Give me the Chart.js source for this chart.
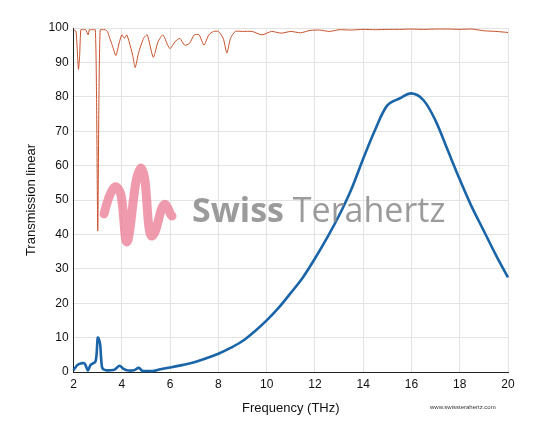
<!DOCTYPE html>
<html><head><meta charset="utf-8">
<script src="https://cdn.jsdelivr.net/npm/chart.js@4"></script>
<style>body{margin:0;background:#fff;font-family:Arial,"Liberation Sans",sans-serif}
#w{position:relative;width:540px;height:439px}
.wm{position:absolute;left:192px;top:186px;font:bold 34px "Open Sans",sans-serif;color:#8a8a8a;opacity:.85}
.wm span{font-weight:normal}
.url{position:absolute;left:430px;top:404px;font-size:6px;color:#333}
</style></head><body>
<div id="w"><canvas id="c" width="540" height="439"></canvas>
<div class="wm">Swiss <span>Terahertz</span></div>
<div class="url">www.swissterahertz.com</div></div>
<script>
const redX=[2,2.1,2.2,2.25,2.3,2.4,2.5,2.6,2.65,2.7,2.8,2.9,2.95,3.0,3.05,3.1,3.2,3.3,3.4,3.5,3.6,3.75,3.9,4.0,4.1,4.2,4.3,4.45,4.55,4.7,4.9,5.05,5.3,5.5,5.7,5.9,6.0,6.2,6.4,6.6,6.8,7.0,7.2,7.4,7.6,7.8,8.0,8.2,8.35,8.5,8.7,9,9.4,9.8,10.2,10.6,11,11.4,11.8,12.2,12.6,13,13.5,14,14.5,15,15.5,16,16.5,17,17.5,18,18.5,19,19.5,20];
const redY=[99.5,99,88,92,99.5,99.5,99.5,98,99.5,99.5,99.5,99.5,80,41,80,99.5,99.5,99.5,99,97,95,92,96,98,97,98,96,92,88.5,93,97,98,91.5,96,98,95,94,96,97,95,95.5,98,98,95,98,99,99,97,92.7,97,99,99,99,98,99,98.5,99,98.6,99.3,99.4,99,99.5,99.4,99.6,99.5,99.6,99.6,99.7,99.6,99.7,99.7,99.6,99.7,99.2,99,98.7];
const blueX=[2,2.15,2.3,2.45,2.55,2.6,2.7,2.8,2.9,2.95,3.0,3.05,3.1,3.15,3.2,3.35,3.5,3.7,3.9,4.05,4.2,4.5,4.7,4.85,5,5.3,5.6,6,6.5,7,7.5,8,8.5,9,9.5,10,10.5,11,11.5,12,12.5,13,13.5,14,14.5,15,15.5,16,16.5,17,17.5,18,18.5,19,19.5,20];
const blueY=[0.5,2,2.5,2.5,1,0.5,2,2.5,3,5,10,9.5,8,3,1,0.5,0.5,0.7,1.8,1,0.5,0.5,1.2,0.3,0.3,0.3,0.8,1.3,2,2.8,4,5.3,7,9,11.8,15,18.7,23,27.5,33,39,45.5,53,62,70.5,77.5,79.5,81,79,73,64.5,56,48,41,34,27.5];
const xTicks=[2,4,6,8,10,12,14,16,18,20];
new Chart(document.getElementById('c'),{type:'line',
data:{datasets:[
{data:redX.map((x,i)=>({x,y:redY[i]})),borderColor:'#c8502a',borderWidth:1,pointRadius:0,tension:0.2},
{data:blueX.map((x,i)=>({x,y:blueY[i]})),borderColor:'#1a64a8',borderWidth:2.6,pointRadius:0,tension:0.35}]},
options:{responsive:false,animation:false,clip:false,
layout:{padding:{left:20,right:32,top:28,bottom:19}},
plugins:{legend:{display:false},tooltip:{enabled:false}},
scales:{
x:{type:'linear',min:2,max:20,afterBuildTicks:a=>{a.ticks=xTicks.map(v=>({value:v}))},
 grid:{color:'#e3e3e3',drawTicks:false},border:{color:'#222'},
 ticks:{color:'#111',font:{size:12},padding:5,maxRotation:0},
 title:{display:true,text:'Frequency (THz)',color:'#111',font:{size:13}}},
y:{min:0,max:100,ticks:{stepSize:10,color:'#111',font:{size:12},padding:5},
 grid:{color:'#e3e3e3',drawTicks:false},border:{color:'#222'},
 title:{display:true,text:'Transmission linear',color:'#111',font:{size:13}}}}},
plugins:[{id:'wave',afterDatasetsDraw(ch){const c=ch.ctx;c.save();c.strokeStyle='rgba(235,120,145,0.75)';c.lineWidth=9;c.lineCap='round';c.lineJoin='round';c.beginPath();
c.moveTo(104,214);c.bezierCurveTo(110,190,116,178,121,195);c.bezierCurveTo(125,215,124,250,128,240);c.bezierCurveTo(132,225,134,172,141,168);c.bezierCurveTo(148,170,146,236,152,236);c.bezierCurveTo(158,234,160,200,166,205);c.bezierCurveTo(170,210,170,216,172,216);c.stroke();c.restore();}}]
});
</script></body></html>
